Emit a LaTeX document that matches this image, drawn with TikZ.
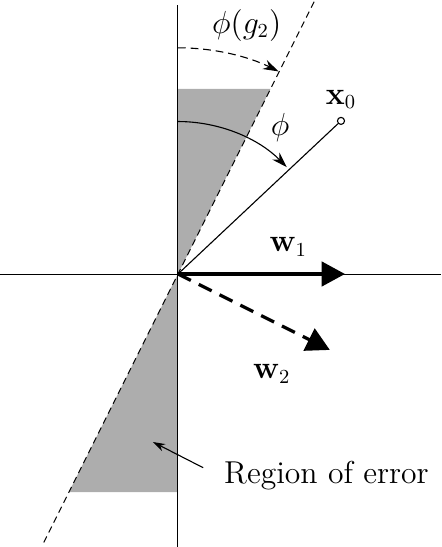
\documentclass[tikz,border=0pt]{standalone}
\usepackage{amsmath}
\usepackage{amssymb}
\usepackage{tikz}
\usetikzlibrary{arrows.meta, positioning}
\definecolor{my_shade}{HTML}{ADADAD}

\begin{document}
\begin{tikzpicture}[
    font=\fontsize{13.5}{16}\selectfont,
    axisline/.style={black, line width=0.45pt},
    boundary/.style={black, line width=0.45pt, dash pattern=on 3pt off 2pt},
    weight/.style={black, line width=1.5pt, -{Triangle[length=10.5pt, width=11pt]}},
    anglearrow/.style={black, line width=0.5pt, -{Stealth[length=7pt, width=4.5pt]}}
]

% Scale: 63 px per cm, origin of the axes at pixel (178,274)
\useasboundingbox (-2.825,-4.333) rectangle (4.175,4.349);

\coordinate (O) at (0,0);

% Region of error: wedges between the vertical axis and the boundary (slope 2)
\fill[my_shade] (O) -- (0,2.94) -- (1.47,2.94) -- cycle;
\fill[my_shade] (O) -- (0,-3.46) -- (-1.73,-3.46) -- cycle;

% Axes
\draw[axisline] (-2.825,0) -- (4.175,0);
\draw[axisline] (0,-4.333) -- (0,4.27);

% Decision boundary through the origin
\draw[boundary] (-2.13,-4.26) -- (2.17,4.34);

% Angle phi(g_2) between the vertical axis and the boundary
\draw[anglearrow, dash pattern=on 3.5pt off 2.2pt] (0,3.59) arc[start angle=90, end angle=63.6, radius=3.59];
\node (phig) at (1.09,3.95) {$\phi(g_2)$};

% Input point x_0
\node[circle, draw, line width=0.5pt, fill=white, inner sep=0pt, minimum size=3.2pt] (x0) at (2.587,2.43) {};
\draw[line width=0.5pt] (O) -- (x0);
\node[above=0pt of x0] (x0lbl) {$\mathbf{x}_0$};

% Angle phi between the vertical axis and x_0
\draw[anglearrow] (0,2.42) arc[start angle=90, end angle=44.5, radius=2.42];
\node (phi) at (1.62,2.33) {$\phi$};

% Weight vectors
\coordinate (w1tip) at (2.65,0);
\coordinate (w2tip) at (2.41,-1.205);
\draw[weight] (O) -- (w1tip);
\draw[weight, dash pattern=on 6.5pt off 4pt] (O) -- (w2tip);
\node (w1) at (1.75,0.435) {$\mathbf{w}_1$};
\node (w2) at (1.49,-1.58) {$\mathbf{w}_2$};

% Label pointing into the lower wedge
\coordinate (errtip) at (-0.397,-2.667);
\node[anchor=base west, font=\fontsize{14.3}{17}\selectfont] (errlbl) at (0.61,-3.33) {Region of error};
\draw[line width=0.5pt, -{Stealth[length=5.5pt, width=3.5pt]}] ([shift={(-0.21,0.13)}]errlbl.west) -- (errtip);

\end{tikzpicture}
\end{document}
